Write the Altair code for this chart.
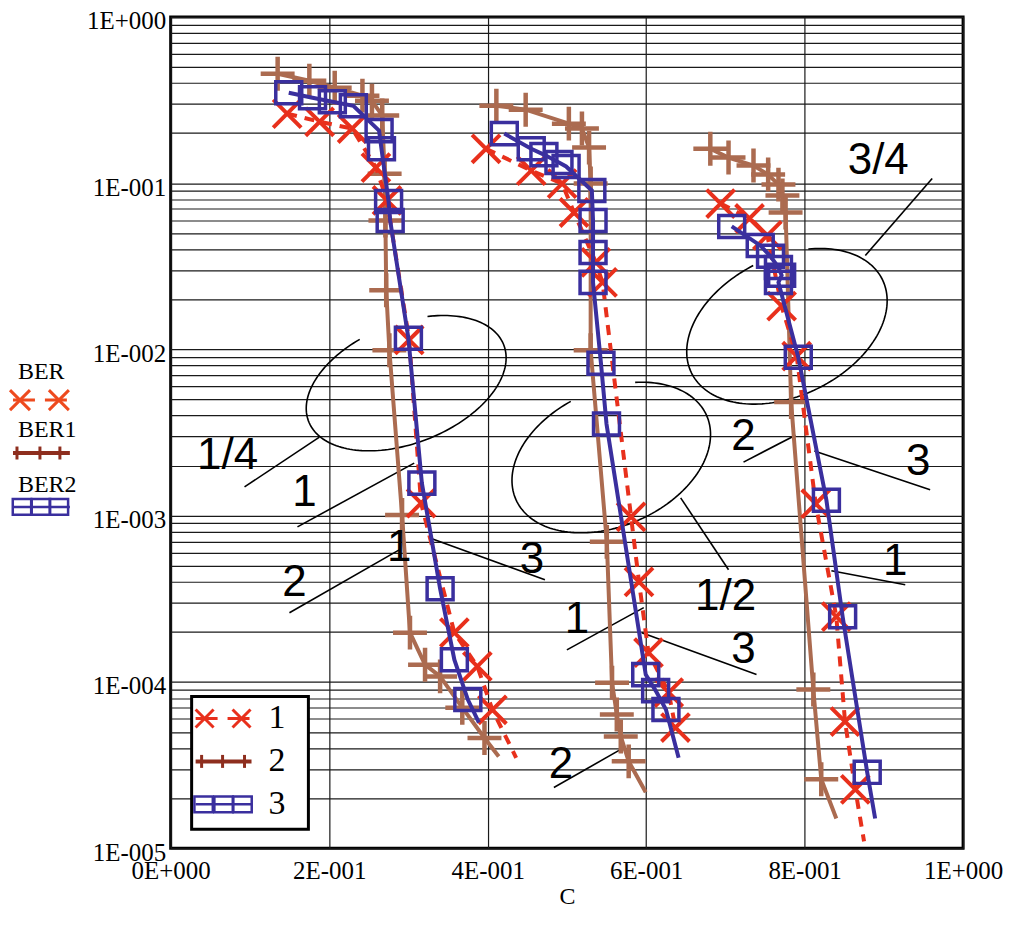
import numpy as np
import pandas as pd
import altair as alt

# ---------------- series values (C, BER) ----------------
# code rate 1/4
c14_ber  = [0.147, 0.188, 0.229, 0.259, 0.273, 0.301, 0.316, 0.358, 0.387, 0.406, 0.436]
b14_ber  = [0.262, 0.234, 0.213, 0.124, 0.0787, 0.0114, 0.00119, 1.98e-4, 1.24e-4, 6.8e-5, 3.5e-5]
c14_ber1 = [0.135, 0.175, 0.207, 0.242, 0.254, 0.267, 0.270, 0.271, 0.272, 0.276, 0.292, 0.302, 0.321, 0.340, 0.368, 0.396, 0.414]
b14_ber1 = [0.455, 0.413, 0.375, 0.336, 0.313, 0.255, 0.114, 0.0596, 0.0227, 0.00989, 0.00101, 1.98e-4, 1.27e-4, 1.08e-4, 7.0e-5, 4.6e-5, 3.56e-5]
c14_ber2 = [0.149, 0.179, 0.204, 0.2305, 0.263, 0.266, 0.275, 0.277, 0.300, 0.317, 0.340, 0.358, 0.375, 0.389]
b14_ber2 = [0.350, 0.326, 0.309, 0.292, 0.207, 0.161, 0.0776, 0.0596, 0.01167, 0.00157, 3.64e-4, 1.36e-4, 7.84e-5, 5.7e-5]
# code rate 1/2
c12_ber  = [0.398, 0.455, 0.494, 0.509, 0.5365, 0.545, 0.581, 0.591, 0.603, 0.6285, 0.637]
b12_ber  = [0.161, 0.119, 0.0994, 0.0666, 0.0334, 0.0253, 9.84e-4, 4.0e-4, 1.5e-4, 8.64e-5, 5.32e-5]
c12_ber1 = [0.411, 0.448, 0.5025, 0.519, 0.528, 0.530, 0.530, 0.5504, 0.557, 0.563, 0.568, 0.578, 0.5995]
b12_ber1 = [0.292, 0.2765, 0.228, 0.213, 0.1636, 0.0994, 0.00989, 6.96e-4, 9.9e-5, 6.37e-5, 4.7e-5, 3.33e-5, 2.17e-5]
c12_ber2 = [0.421, 0.455, 0.471, 0.490, 0.499, 0.5315, 0.533, 0.533, 0.533, 0.543, 0.550, 0.5995, 0.612, 0.625, 0.641]
b12_ber2 = [0.1986, 0.161, 0.1485, 0.133, 0.126, 0.0903, 0.0596, 0.0383, 0.0253, 0.00826, 0.00356, 1.107e-4, 8.87e-5, 6.83e-5, 3.5e-5]
# code rate 3/4
c34_ber  = [0.694, 0.7305, 0.753, 0.771, 0.790, 0.814, 0.840, 0.851, 0.864, 0.875]
b34_ber  = [0.0754, 0.0613, 0.0485, 0.0182, 0.0091, 0.00118, 2.47e-4, 5.78e-5, 2.26e-5, 1.1e-5]
c34_ber1 = [0.681, 0.704, 0.7355, 0.754, 0.767, 0.772, 0.776, 0.783, 0.811, 0.821, 0.840]
b34_ber1 = [0.161, 0.1425, 0.1276, 0.1127, 0.098, 0.0842, 0.0666, 0.00482, 9.0e-5, 2.6e-5, 1.51e-5]
c34_ber2 = [0.708, 0.744, 0.757, 0.767, 0.771, 0.767, 0.792, 0.8275, 0.848, 0.879, 0.889]
b34_ber2 = [0.0549, 0.0422, 0.0363, 0.0311, 0.0279, 0.0253, 0.00898, 0.00124, 2.47e-4, 2.86e-5, 1.51e-5]

# does the line run on past the last marker?
tail = {("1/4", "BER"): True, ("1/4", "BER1"): True, ("1/4", "BER2"): True,
        ("1/2", "BER"): False, ("1/2", "BER1"): True, ("1/2", "BER2"): True,
        ("3/4", "BER"): True, ("3/4", "BER1"): True, ("3/4", "BER2"): True}

# annotation labels
ann_text = ["1/4", "1", "2", "1", "3", "1", "2", "3", "1/2", "2", "3", "1", "3/4"]
ann_c = [0.0718, 0.1688, 0.1562, 0.2884, 0.4559, 0.5126, 0.4924, 0.7229, 0.7003, 0.7229, 0.9433, 0.9144, 0.8929]
ann_b = [2.29e-3, 1.37e-3, 3.95e-4, 6.41e-4, 5.43e-4, 2.37e-4, 3.15e-5, 1.56e-4, 3.26e-4, 2.97e-3, 2.10e-3, 5.28e-4, 0.1367]

# leader lines
lead_c1 = [0.0932, 0.160, 0.1499, 0.4723, 0.500, 0.5945, 0.4836, 0.6436, 0.7229, 0.8123, 0.8338, 0.8766]
lead_b1 = [1.49e-3, 8.57e-4, 2.61e-4, 4.12e-4, 1.56e-4, 1.98e-4, 2.32e-5, 1.28e-3, 2.10e-3, 2.45e-3, 4.66e-4, 0.0367]
lead_c2 = [0.1877, 0.3073, 0.2884, 0.3262, 0.597, 0.7393, 0.568, 0.704, 0.7884, 0.9584, 0.927, 0.961]
lead_b2 = [2.97e-3, 2.07e-3, 6.23e-4, 7.36e-4, 2.80e-4, 1.11e-4, 3.93e-5, 4.73e-4, 3.05e-3, 1.43e-3, 3.84e-4, 0.1066]

# ellipses (centre C, centre log10 BER, two conjugate semi-diameters, gap in degrees)
ell_name = ["1/4", "1/2", "3/4"]
ell_c0 = [0.2972, 0.556, 0.7777]
ell_l0 = [-2.2029, -2.650, -1.8607]
ell_a = [(0.12305, 0.2311), (0.1204, 0.2519), (0.1205, 0.2803)]
ell_b = [(0.0277, -0.3349), (0.03467, -0.3765), (0.0384, -0.3750)]
ell_gap = [(255, 295), (262, 300), (268, 300)]

# ---------------- style ----------------
W, H = 794, 833
RED, BROWN, BLUE = "#E8301C", "#AB6B50", "#3A2F9E"
LBROWN = "#8E2E1E"
XPATH = "M-1,-1L1,1M-1,1L1,-1"
PLUS = "M-1,0L1,0M0,-1L0,1"
RECT = "M-1,-0.85L1,-0.85L1,0.85L-1,0.85Z"
VTICK = "M0,-1L0,1"

# ---------------- tables ----------------
curves = {
    ("1/4", "BER"): (c14_ber, b14_ber), ("1/4", "BER1"): (c14_ber1, b14_ber1), ("1/4", "BER2"): (c14_ber2, b14_ber2),
    ("1/2", "BER"): (c12_ber, b12_ber), ("1/2", "BER1"): (c12_ber1, b12_ber1), ("1/2", "BER2"): (c12_ber2, b12_ber2),
    ("3/4", "BER"): (c34_ber, b34_ber), ("3/4", "BER1"): (c34_ber1, b34_ber1), ("3/4", "BER2"): (c34_ber2, b34_ber2),
}
rows = []
for (g, s), (cs, bs) in curves.items():
    n = len(cs)
    for i, (c, b) in enumerate(zip(cs, bs)):
        mk = not (tail[(g, s)] and i == n - 1)
        rows.append({"grp": g, "ser": s, "i": i, "C": c, "BER": b, "mk": mk})
df = pd.DataFrame(rows)

ann_df = pd.DataFrame({"C": ann_c, "BER": ann_b, "txt": ann_text})
lead_df = pd.DataFrame({"C": lead_c1, "BER": lead_b1, "C2": lead_c2, "BER2": lead_b2})

erows = []
for k, name in enumerate(ell_name):
    g0, g1 = ell_gap[k]
    for t in np.arange(g1, g0 + 360 + 0.1, 2.0):
        r = np.radians(t)
        c = ell_c0[k] + np.cos(r) * ell_a[k][0] + np.sin(r) * ell_b[k][0]
        l = ell_l0[k] + np.cos(r) * ell_a[k][1] + np.sin(r) * ell_b[k][1]
        erows.append({"name": name, "t": t, "C": c, "BER": 10 ** l})
ell_df = pd.DataFrame(erows)

# legend layout helpers (pixel offsets from plot origin -> data space)
def lx(px):
    return px / W

def ly(py):
    return 10 ** (-5.0 * py / H)

# ---------------- scales / axes ----------------
xs = alt.Scale(domain=[0, 1], nice=False, zero=False)
ys = alt.Scale(type="log", domain=[1e-5, 1], nice=False)
grid_vals = [m * 10.0 ** e for e in range(-5, 0) for m in range(1, 10)] + [1.0]

xaxis = alt.Axis(values=[0, 0.2, 0.4, 0.6, 0.8, 1.0],
                 labelExpr="datum.value == 0 ? '0E+000' : (datum.value > 0.999 ? '1E+000' : round(datum.value*10) + 'E-001')",
                 title="C", grid=True, ticks=False, domain=False, labelFlush=False,
                 labelFont="Liberation Serif", labelFontSize=25, labelColor="black", labelPadding=10,
                 titleFont="Liberation Serif", titleFontSize=24, titleFontWeight="normal",
                 titleColor="black", titlePadding=1,
                 gridColor="#1a1a1a", gridWidth=1.2, gridOpacity=1)
yaxis = alt.Axis(values=grid_vals,
                 labelExpr="abs(log(datum.value)/LN10 - round(log(datum.value)/LN10)) < 0.001 ? (datum.value > 0.5 ? '1E+000' : '1E-00' + round(-log(datum.value)/LN10)) : ''",
                 title=None, grid=True, ticks=False, domain=False, labelFlush=False,
                 labelFont="Liberation Serif", labelFontSize=25, labelColor="black", labelPadding=5,
                 labelBaseline="top", labelOffset=-8,
                 gridColor="#1a1a1a", gridWidth=1.2, gridOpacity=1)

def X():
    return alt.X("C:Q", scale=xs, axis=xaxis)

def Y():
    return alt.Y("BER:Q", scale=ys, axis=yaxis)

layers = []

# ellipses and leader lines
layers.append(alt.Chart(ell_df).mark_line(color="black", strokeWidth=1.6).encode(
    x=X(), y=Y(), detail="name:N", order="t:Q"))
layers.append(alt.Chart(lead_df).mark_rule(color="black", strokeWidth=1.6).encode(
    x=X(), y=Y(), x2="C2:Q", y2="BER2:Q"))

# curves
spec = [("BER1", BROWN, None, PLUS, 1156, 4.5),
        ("BER", RED, [10, 8], XPATH, 784, 4),
        ("BER2", BLUE, None, RECT, 676, 3.5)]
for ser, col, dash, shp, sz, sw in spec:
    d = df[df.ser == ser]
    lk = dict(color=col, strokeWidth=4)
    if dash:
        lk["strokeDash"] = dash
    layers.append(alt.Chart(d).mark_line(**lk).encode(x=X(), y=Y(), detail="grp:N", order="i:Q"))
    layers.append(alt.Chart(d[d.mk]).mark_point(shape=shp, size=sz, filled=False, strokeWidth=sw,
                                                color=col, opacity=1).encode(x=X(), y=Y()))

# annotation labels
layers.append(alt.Chart(ann_df).mark_text(font="Liberation Sans", fontSize=44, color="black",
                                          align="center", baseline="middle").encode(
    x=X(), y=Y(), text="txt:N"))

# ---------------- inner legend ----------------
box = pd.DataFrame({"C": [lx(21)], "C2": [lx(138)], "BER": [ly(681)], "BER2": [ly(814)]})
layers.append(alt.Chart(box).mark_rect(fill="white", stroke="black", strokeWidth=3).encode(
    x=X(), y=Y(), x2="C2:Q", y2="BER2:Q"))

def seg(x0, x1, y):
    return pd.DataFrame({"C": [lx(x0)], "C2": [lx(x1)], "BER": [ly(y)], "BER2": [ly(y)]})

def pts(xsl, y):
    return pd.DataFrame({"C": [lx(v) for v in xsl], "BER": [ly(y)] * len(xsl)})

def legend_rows(x0, x1, ys3, xmarks, ticks, rects, red, brown, blue, xs_size=324):
    out = []
    out.append(alt.Chart(seg(x0, x1, ys3[0])).mark_rule(color=red, strokeWidth=3, strokeDash=[22, 10]).encode(
        x=X(), y=Y(), x2="C2:Q", y2="BER2:Q"))
    out.append(alt.Chart(pts(xmarks, ys3[0])).mark_point(shape=XPATH, size=xs_size, filled=False, strokeWidth=3,
                                                         color=red, opacity=1).encode(x=X(), y=Y()))
    out.append(alt.Chart(seg(x0, x1, ys3[1])).mark_rule(color=brown, strokeWidth=4).encode(
        x=X(), y=Y(), x2="C2:Q", y2="BER2:Q"))
    out.append(alt.Chart(pts(ticks, ys3[1])).mark_point(shape=VTICK, size=169, filled=False, strokeWidth=3,
                                                        color=brown, opacity=1).encode(x=X(), y=Y()))
    out.append(alt.Chart(seg(x0, x1, ys3[2])).mark_rule(color=blue, strokeWidth=2.5).encode(
        x=X(), y=Y(), x2="C2:Q", y2="BER2:Q"))
    out.append(alt.Chart(pts(rects, ys3[2])).mark_point(shape=RECT, size=340, filled=False, strokeWidth=2.5,
                                                        color=blue, opacity=1).encode(x=X(), y=Y()))
    return out

layers += legend_rows(25, 81, [703, 746, 789], [34, 71], [31, 52, 74], [33, 53, 72], RED, LBROWN, BLUE)
inner_txt = pd.DataFrame({"C": [lx(98)] * 3, "BER": [ly(703), ly(746), ly(789)], "txt": ["1", "2", "3"]})
layers.append(alt.Chart(inner_txt).mark_text(font="Liberation Serif", fontSize=34, color="black",
                                             align="left", baseline="middle").encode(
    x=X(), y=Y(), text="txt:N"))

# ---------------- outer legend (left of the axis) ----------------
layers += legend_rows(-158, -101, [384, 437, 491], [-151, -112], [-154, -131, -111], [-149, -130, -112],
                      "#EE4A1E", LBROWN, BLUE, xs_size=400)
outer_txt = pd.DataFrame({"C": [lx(-153)] * 3, "BER": [ly(356), ly(414), ly(469)], "txt": ["BER", "BER1", "BER2"]})
layers.append(alt.Chart(outer_txt).mark_text(font="Liberation Serif", fontSize=24, color="black",
                                             align="left", baseline="middle").encode(
    x=X(), y=Y(), text="txt:N"))

chart = alt.layer(*layers).properties(
    width=W, height=H,
    autosize=alt.AutoSizeParams(type="none"),
    padding={"left": 163, "top": 8, "right": 47, "bottom": 65},
    background="white",
).configure_view(stroke="black", strokeWidth=3)

chart.save("out.html", embed_options={"renderer": "svg", "actions": False})
